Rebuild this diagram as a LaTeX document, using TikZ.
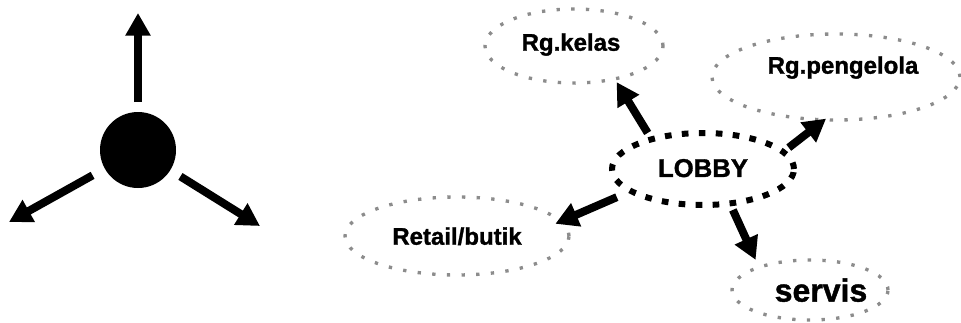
\documentclass[tikz,border=0pt]{standalone}
\usepackage{fontspec}
\setmainfont{Liberation Sans}
\newfontfamily\roomfont{Liberation Sans Bold}[FakeBold=1.3]
\usetikzlibrary{arrows.meta,shapes.geometric}

\begin{document}
\begin{tikzpicture}[
  x=0.75pt, y=-0.75pt,
  room/.style={draw=black!45, ellipse, line width=2.5pt, dash pattern=on 2.5pt off 8.5pt, outer sep=0pt, inner sep=0pt},
  core/.style={draw=black, ellipse, line width=4.5pt, dash pattern=on 5pt off 7.75pt, outer sep=0pt, inner sep=0pt},
  roomtext/.style={font=\roomfont\fontsize{18}{18}\selectfont, text depth=0pt, inner sep=0pt},
  flow/.style={-{Triangle[length=17pt,width=18pt]}, line width=6pt}
]
\useasboundingbox (0,0) rectangle (961,322);

% left: hub with three directions
\node[circle, fill=black, minimum size=57pt, inner sep=0pt, outer sep=0pt] (hub) at (138,150) {};
\coordinate (hubN) at (138,13);
\coordinate (hubW) at (9,222);
\coordinate (hubE) at (260,226);
\draw[flow, shorten <=7.5pt] (hub) -- (hubN);
\draw[flow, shorten <=10.5pt] (hub) -- (hubW);
\draw[flow, shorten <=9pt] (hub) -- (hubE);

% right: lobby and the rooms around it
\node[core, minimum width=136.5pt, minimum height=54pt,
  label={[roomtext, font=\roomfont\fontsize{19.3}{19.3}\selectfont, yshift=0.75pt]center:LOBBY}] (lobby) at (703,169) {};
\node[room, minimum width=133.5pt, minimum height=55.5pt,
  label={[roomtext, xshift=-2.25pt, yshift=3pt]center:Rg.kelas}] (kelas) at (574,46) {};
\node[room, minimum width=186pt, minimum height=64.5pt,
  label={[roomtext, xshift=5.25pt, yshift=9pt]center:Rg.pengelola}] (pengelola) at (836,77) {};
\node[room, minimum width=168pt, minimum height=58.5pt,
  label={[roomtext]center:Retail/butik}] (retail) at (457,236) {};
\node[room, minimum width=117pt, minimum height=45pt,
  label={[roomtext, font=\roomfont\fontsize{24}{24}\selectfont, xshift=8.25pt]center:servis}] (servis) at (810,290) {};

\draw[flow, shorten <=5.6pt, shorten >=2.8pt] (lobby.150) -- (kelas.-39);
\draw[flow, shorten <=5.3pt, shorten >=-1.5pt] (lobby.12) -- (pengelola.-105);
\draw[flow, shorten <=11.6pt, shorten >=-4.5pt] (lobby.197) -- (retail.8);
\draw[flow, shorten <=5.4pt, shorten >=6.1pt] (lobby.-52) -- (servis.156);

\end{tikzpicture}
\end{document}
